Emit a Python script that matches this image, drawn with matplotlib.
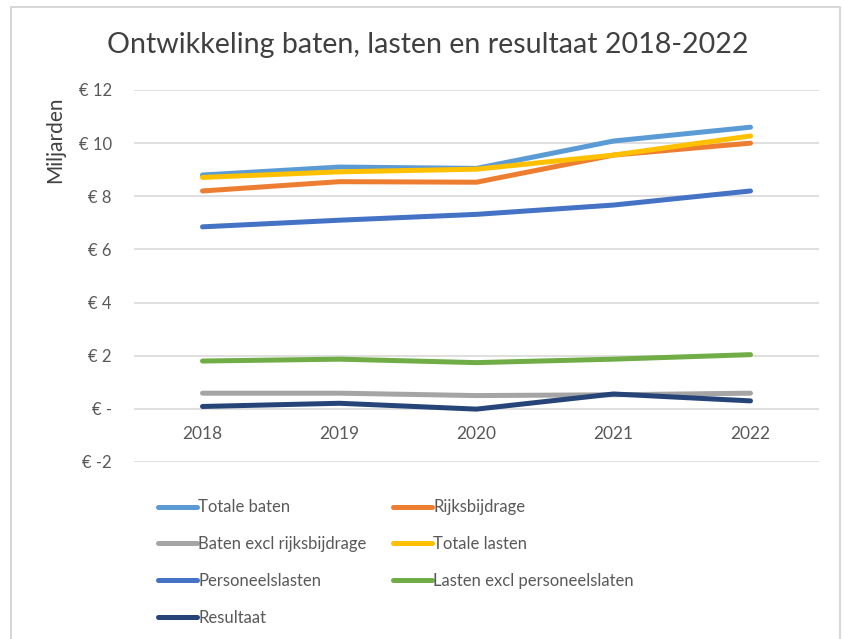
import matplotlib
matplotlib.use("Agg")
import matplotlib.pyplot as plt
from matplotlib.patches import Rectangle

years = ["2018", "2019", "2020", "2021", "2022"]
totale_baten = [8.80, 9.10, 9.05, 10.08, 10.60]
rijksbijdrage = [8.20, 8.55, 8.53, 9.55, 10.00]
baten_excl = [0.59, 0.59, 0.50, 0.53, 0.59]
totale_lasten = [8.71, 8.92, 9.02, 9.55, 10.27]
personeelslasten = [6.85, 7.10, 7.32, 7.67, 8.20]
lasten_excl = [1.80, 1.87, 1.74, 1.87, 2.04]
resultaat = [0.09, 0.21, -0.01, 0.56, 0.30]

series = [
    ("Totale baten", totale_baten, "#5B9BD5"),
    ("Rijksbijdrage", rijksbijdrage, "#ED7D31"),
    ("Baten excl rijksbijdrage", baten_excl, "#A5A5A5"),
    ("Totale lasten", totale_lasten, "#FFC000"),
    ("Personeelslasten", personeelslasten, "#4472C4"),
    ("Lasten excl personeelslaten", lasten_excl, "#70AD47"),
    ("Resultaat", resultaat, "#264478"),
]

plt.rcParams['font.family'] = ['Lato', 'DejaVu Sans']
fig = plt.figure(figsize=(8.44, 6.39), dpi=100)
fig.patches.append(Rectangle((11/844, -0.1), (840-11)/844, 1 - 7/639 + 0.1,
                             transform=fig.transFigure, fill=False,
                             edgecolor="#D0D0D0", lw=1.2))

ax = fig.add_axes([134/844, 1 - 462/639, (819-134)/844, (462-90)/639])
ax.spines['bottom'].set_position(('data', 0))
for s in ax.spines.values():
    s.set_visible(False)

x = list(range(len(years)))
handles = {}
for name, vals, col in series:
    h, = ax.plot(x, vals, color=col, lw=3.6, solid_capstyle='round', label=name)
    handles[name] = h

ax.set_xlim(-0.5, len(years) - 0.5)
ax.set_ylim(-2, 12)
yt = [-2, 0, 2, 4, 6, 8, 10, 12]
ax.set_yticks(yt)
ax.set_yticklabels(["€ -2", "€ -", "€ 2", "€ 4", "€ 6", "€ 8", "€ 10", "€ 12"],
                   fontsize=12, color="#595959")
ax.set_xticks(x)
ax.set_xticklabels(years, fontsize=12.5, color="#595959")
ax.tick_params(axis='both', length=0)
ax.tick_params(axis='y', pad=16)
ax.tick_params(axis='x', pad=12)
ax.grid(axis='y', color="#D9D9D9", lw=1.2)
ax.set_axisbelow(True)

fig.text(428/844, 1 - 45/639, "Ontwikkeling baten, lasten en resultaat 2018-2022",
         ha='center', va='center', fontsize=20.6, color="#404040")
fig.text(55/844, 1 - 140/639, "Miljarden", rotation=90, ha='center', va='center',
         fontsize=15, color="#404040")

order = ["Totale baten", "Baten excl rijksbijdrage", "Personeelslasten", "Resultaat",
         "Rijksbijdrage", "Totale lasten", "Lasten excl personeelslaten"]
leg = fig.legend([handles[n] for n in order], order, ncol=2,
                 loc='upper left', bbox_to_anchor=(150/844, 1 - 491/639),
                 frameon=False, fontsize=12, handlelength=2.3, handletextpad=0.1,
                 columnspacing=1.6, labelspacing=1.25, borderpad=0)
for t in leg.get_texts():
    t.set_color("#595959")

fig.savefig("out.png", dpi=100)
